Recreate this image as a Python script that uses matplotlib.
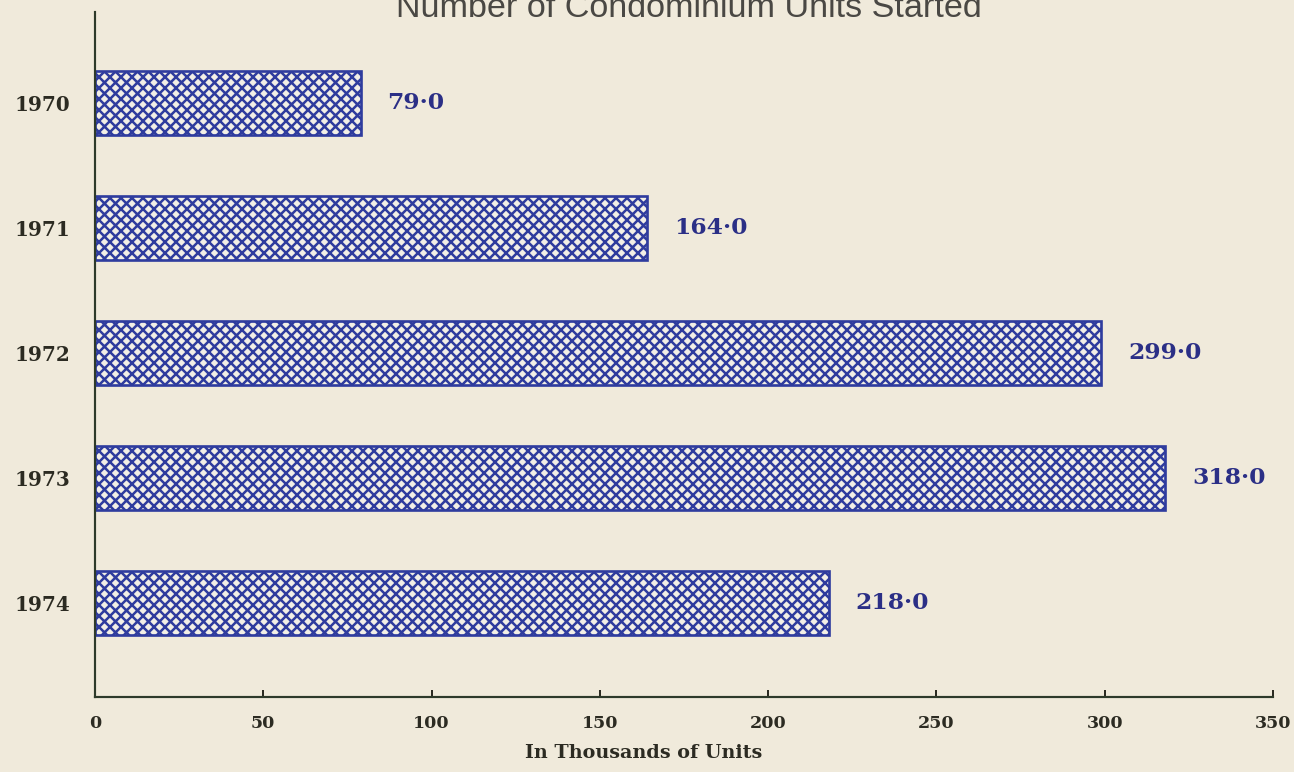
import matplotlib
matplotlib.use("Agg")
from matplotlib import pyplot as plt

years = ["1970", "1971", "1972", "1973", "1974"]
units_started = [79.0, 164.0, 299.0, 318.0, 218.0]
x_ticks = [0, 50, 100, 150, 200, 250, 300, 350]

paper = "#f0eadb"
ink = "#2c2b22"
navy = "#2b2f86"
hatch_blue = "#2f3c9e"

# hatch cells scale with dpi, so sizes are given for 120 dpi and scaled
dpi = 132
k = 120 / dpi

plt.rcParams["hatch.linewidth"] = 1.5 * k

fig = plt.figure(figsize=(1294 / dpi, 772 / dpi), dpi=dpi, facecolor=paper)
ax = fig.add_axes([0.0734, 0.0972, 0.9104, 0.8873], facecolor=paper)

pos = list(range(len(years)))
ax.barh(pos, units_started, height=0.51, color="#f2efe6",
        edgecolor=hatch_blue, hatch="xxxx", linewidth=1.6 * k)

# value labels to the right of each bar, written with a raised dot
for p, v in zip(pos, units_started):
    ax.annotate(f"{v:.1f}".replace(".", "\u00b7"), (v, p),
                xytext=(16 * k, 0), textcoords="offset points",
                ha="left", va="center", color=navy,
                fontsize=14 * k, fontweight="bold", family="DejaVu Serif")

ax.set_xlim(0, 350)
ax.set_ylim(4.752, -0.728)
ax.set_yticks(pos)
ax.set_yticklabels(years, family="DejaVu Serif", fontweight="bold",
                   fontsize=12 * k, color=ink)
ax.set_xticks(x_ticks)
ax.set_xticklabels([str(t) for t in x_ticks], family="DejaVu Serif",
                   fontweight="bold", fontsize=10.5 * k, color=ink)
ax.tick_params(axis="y", length=0, pad=15 * k)
ax.tick_params(axis="x", direction="in", length=4 * k, width=1.2 * k,
               color=ink, pad=11 * k)

for side in ("top", "right"):
    ax.spines[side].set_visible(False)
for side in ("left", "bottom"):
    ax.spines[side].set_color("#2e3a2a")
    ax.spines[side].set_linewidth(1.3 * k)

ax.set_xlabel("In Thousands of Units", family="DejaVu Serif",
              fontweight="bold", fontsize=11.5 * k, color=ink)
ax.xaxis.set_label_coords(0.466, -0.068)

fig.text(0.532, 1 - 17 / 772, "Number of Condominium Units Started",
         ha="center", va="baseline", family="Liberation Sans",
         fontsize=20.5 * k, color="#4a4844")

fig.savefig("out.png", dpi=dpi, facecolor=paper)
